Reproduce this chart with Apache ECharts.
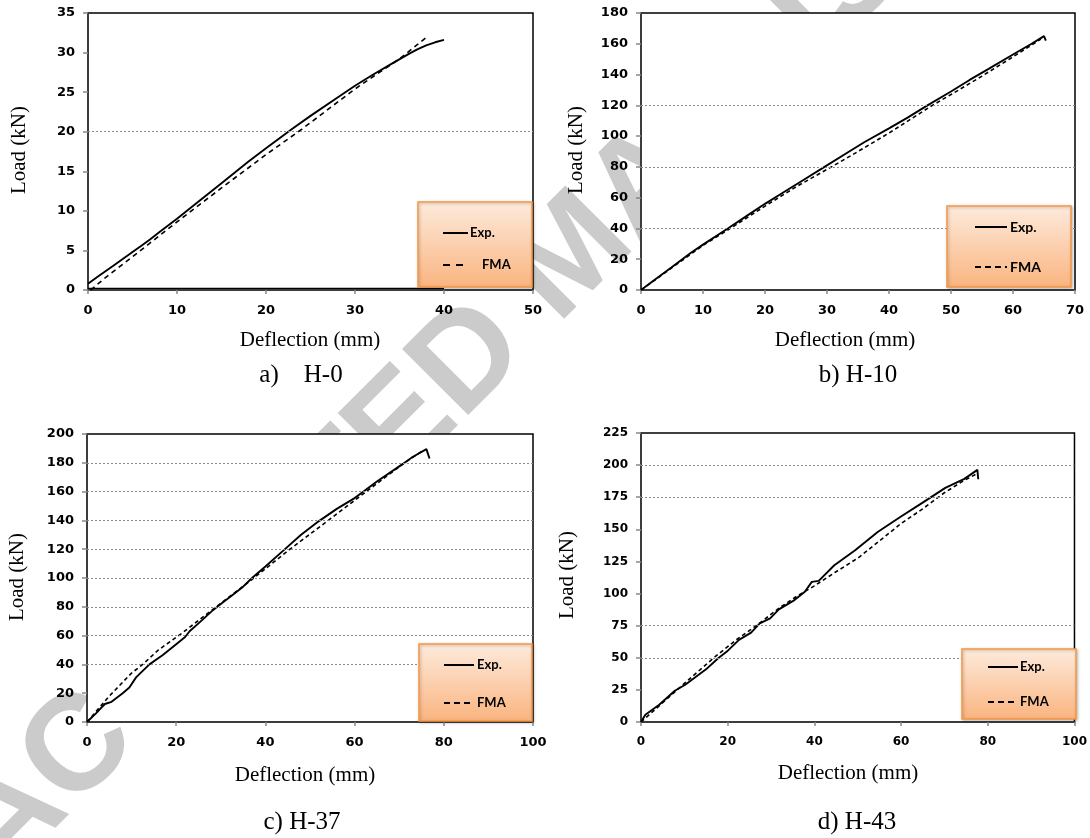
<!DOCTYPE html>
<html><head><meta charset="utf-8">
<script src="https://cdn.jsdelivr.net/npm/echarts@6/dist/echarts.min.js"></script>
<style>html,body{margin:0;padding:0;background:#fff}#c{width:1090px;height:838px}</style>
</head><body><div id="c"></div>
<script>
// ---------- data (Deflection mm, Load kN) ----------
const expA = [[0,0.8],[1,1.6],[2,2.4],[3,3.2],[5,4.8],[6,5.6],[7,6.4],[8,7.3],[10,9.0],[12,10.8],[15,13.5],[18,16.2],[20,17.9],[23,20.4],[25,22.0],[28,24.3],[30,25.8],[32,27.2],[34,28.5],[36,29.8],[37,30.4],[38,30.9],[39,31.3],[40,31.6]];
const expABase = [[0,0.2],[40,0.2]];
const fmaA = [[0.3,0],[2,1.6],[5,4.2],[10,8.6],[15,12.9],[20,17.1],[24,20.3],[28,23.7],[30,25.4],[33,27.7],[35,29.2],[37,31.0],[38,31.9]];

const expB = [[0,0],[2,6],[5,15],[8,24],[10,29.5],[14,40],[17,48],[20,56],[23,63.5],[26,71],[29.6,80],[33,88.5],[36,96],[40,105],[43,112],[46.2,120],[50,129],[53,136.5],[56,143.5],[60,153],[63,160],[65,165],[65.3,162]];
const fmaB = [[0,0],[5,14.5],[10,29],[14.4,40],[20,54.5],[25,67],[30.7,80],[35,90],[40,102],[47,120],[50,127],[55,139],[60,151.5],[64.5,163]];

const expC = [[0,0],[2,6],[4,12.5],[5.5,14],[8,20],[9.5,24],[11,31],[14,40],[17,46.5],[20,54],[22,59],[23,63],[25,68.5],[28,77],[30,82],[33,89],[35,94],[37,100],[40,108],[44,119],[48,130],[52,139.5],[56,148],[60,155.5],[62,160],[65,167],[70,177.5],[71.2,180],[73,184],[76.1,189.5],[76.8,183]];
const fmaC = [[0,0],[5,18],[10,34],[12.5,40],[16,50],[21,61],[29,80],[37.4,100],[45.5,120],[54.1,140],[62.6,160],[71.2,180],[75.1,188]];

const expD = [[0,0],[1,5.7],[4.2,13.4],[7.8,24.3],[10.2,29],[15,41],[17.8,49.6],[19.8,54.8],[22.6,63.9],[25.4,69.6],[27.4,76.8],[29.8,80.7],[31.8,87.7],[35.4,94.9],[37.8,101.4],[39.4,109.1],[41,109.9],[44.6,122],[49.4,133.7],[54.6,147.9],[59.8,159.6],[64.8,170.4],[70.2,182.3],[74.6,189.3],[77.6,196.3],[77.8,189]];
const fmaD = [[0,0],[5,15],[10,30],[16.8,50],[22,64],[26.6,75],[32,89],[36,98],[40,106],[45,117],[50,127.5],[55,141],[60,154.5],[65,166],[70,178.5],[74,187],[77.4,193.2]];

// visible gridlines
const gridA = [20];
const gridB = [40, 80, 120];
const gridC = [40, 60, 80, 100, 120, 140, 160, 180];
const gridD = [50, 75, 175, 200];

// axis ranges
const xMaxs = [50, 70, 100, 100];
const xSteps = [10, 10, 20, 20];
const yMaxs = [35, 180, 200, 225];
const ySteps = [5, 20, 20, 25];

const captions = ['a)    H-0', 'b) H-10', 'c) H-37', 'd) H-43'];
const seriesNames = ['Exp.', 'FMA'];
const xTitle = 'Deflection (mm)';
const yTitle = 'Load (kN)';
const watermark = 'ACCEPTED MANUSCRIPT';

// ---------- layout ----------
const panels = [
  {grid:{left:88,top:13,width:445,height:277}, exp:expA, base:expABase, fma:fmaA, gl:gridA, dash:[5,4], fs:13,
   lg:{x:418,y:202,w:114,h:85,l1:443,l2:468,tx1:470,tx2:482,y1:233,y2:265,fs:13},
   xt:[310,340], yt:[19,150], cap:[301,375]},
  {grid:{left:641,top:13,width:434,height:277}, exp:expB, fma:fmaB, gl:gridB, dash:[4,3], fs:13,
   lg:{x:947,y:206,w:124,h:81,l1:975,l2:1007,tx1:1010,tx2:1010,y1:227,y2:267,fs:14},
   xt:[845,340], yt:[576,150], cap:[858,375]},
  {grid:{left:87,top:434,width:446,height:288}, exp:expC, fma:fmaC, gl:gridC, dash:[4,3], fs:13,
   lg:{x:419,y:644,w:113,h:77,l1:444,l2:474,tx1:477,tx2:477,y1:665,y2:703,fs:13},
   xt:[305,775], yt:[17,577], cap:[302,822]},
  {grid:{left:641,top:433,width:436,height:289}, exp:expD, fma:fmaD, gl:gridD, dash:[4,3], fs:12,
   lg:{x:962,y:649,w:114,h:70,l1:988,l2:1018,tx1:1020,tx2:1020,y1:667,y2:702,fs:13},
   xt:[848,773], yt:[567,575], cap:[857,822]}
];

const grids = [], xAxes = [], yAxes = [], series = [], graphics = [];

// watermark (bottom-most), covered by the white plot areas
graphics.push({type:'text', x:574, y:256, rotation:Math.PI/4, z:-100, silent:true,
  style:{text:watermark, fontSize:136, fontWeight:'bold', fontFamily:'Liberation Sans', fill:'#cbcbcb',
         align:'center', verticalAlign:'middle', textAlign:'center', textVerticalAlign:'middle'}});

panels.forEach((p, i) => {
  const g = p.grid;
  grids.push(Object.assign({show:true, backgroundColor:'#ffffff', borderColor:'#000', borderWidth:1.5, containLabel:false}, g));
  // opaque plot background
  graphics.push({type:'rect', z:-50, silent:true, shape:{x:g.left, y:g.top, width:g.width, height:g.height}, style:{fill:'#ffffff'}});

  const lbl = {color:'#000', fontWeight:'bold', fontSize:p.fs, fontFamily:'DejaVu Sans'};
  xAxes.push({gridIndex:i, type:'value', min:0, max:xMaxs[i], interval:xSteps[i],
    axisLine:{show:true, onZero:false, lineStyle:{color:'#3c3c3c', width:2}},
    axisTick:{show:true, length:4, lineStyle:{color:'#888', width:1.5}},
    axisLabel:Object.assign({margin:14}, lbl), splitLine:{show:false}});
  yAxes.push({gridIndex:i, type:'value', min:0, max:yMaxs[i], interval:ySteps[i],
    axisLine:{show:true, onZero:false, lineStyle:{color:'#3c3c3c', width:2}},
    axisTick:{show:true, length:5, lineStyle:{color:'#888', width:1.5}},
    axisLabel:Object.assign({margin:13}, lbl), splitLine:{show:false}});
  series.push({type:'line', name:seriesNames[1], xAxisIndex:i, yAxisIndex:i, data:p.fma, symbol:'none', z:2,
    lineStyle:{color:'#000', width:1.6, type:p.dash},
    markLine:{silent:true, symbol:'none', label:{show:false}, animation:false,
      lineStyle:{color:'#8a8a8a', type:[2,2], width:1}, data:p.gl.map(v => ({yAxis:v}))}});
  series.push({type:'line', name:seriesNames[0], xAxisIndex:i, yAxisIndex:i, data:p.exp, symbol:'none', z:3,
    lineStyle:{color:'#000', width:1.9}});
  if (p.base) series.push({type:'line', name:seriesNames[0], xAxisIndex:i, yAxisIndex:i, data:p.base, symbol:'none', z:3,
    lineStyle:{color:'#000', width:1.4}});

  // legend box
  const L = p.lg;
  graphics.push({type:'rect', z:10, shape:{x:L.x, y:L.y, width:L.w, height:L.h},
    style:{fill:{type:'linear', x:0, y:0, x2:0, y2:1, colorStops:[{offset:0,color:'#fdebdd'},{offset:1,color:'#fab47f'}]},
           stroke:'#f79646', lineWidth:1.5, shadowBlur:3, shadowColor:'rgba(0,0,0,0.25)', shadowOffsetX:1, shadowOffsetY:1}});
  graphics.push({type:'line', z:11, shape:{x1:L.l1, y1:L.y1, x2:L.l2, y2:L.y1}, style:{stroke:'#000', lineWidth:2}});
  graphics.push({type:'line', z:11, shape:{x1:L.l1, y1:L.y2, x2:L.l2, y2:L.y2}, style:{stroke:'#000', lineWidth:2, lineDash:i===0?[7,6]:[6,4]}});
  graphics.push({type:'text', z:11, x:L.tx1, y:L.y1, style:{text:seriesNames[0], fontSize:L.fs, fontWeight:'bold', fontFamily:'Lato', fill:'#000', align:'left', verticalAlign:'middle', textAlign:'left', textVerticalAlign:'middle'}});
  graphics.push({type:'text', z:11, x:L.tx2, y:L.y2, style:{text:seriesNames[1], fontSize:L.fs, fontWeight:'bold', fontFamily:'Lato', fill:'#000', align:'left', verticalAlign:'middle', textAlign:'left', textVerticalAlign:'middle'}});

  // titles
  const serif = {fontFamily:'Liberation Serif', fill:'#000', align:'center', verticalAlign:'middle', textAlign:'center', textVerticalAlign:'middle'};
  graphics.push({type:'text', z:5, x:p.xt[0], y:p.xt[1], style:Object.assign({text:xTitle, fontSize:21}, serif)});
  graphics.push({type:'text', z:5, x:p.yt[0], y:p.yt[1], rotation:Math.PI/2, style:Object.assign({text:yTitle, fontSize:21}, serif)});
  graphics.push({type:'text', z:5, x:p.cap[0], y:p.cap[1], style:Object.assign({text:captions[i], fontSize:25}, serif)});
});

const chart = echarts.init(document.getElementById('c'), null, {renderer:'canvas'});
chart.setOption({
  animation:false,
  backgroundColor:'#ffffff',
  grid:grids, xAxis:xAxes, yAxis:yAxes, series:series,
  graphic:{elements:graphics}
});
</script></body></html>
